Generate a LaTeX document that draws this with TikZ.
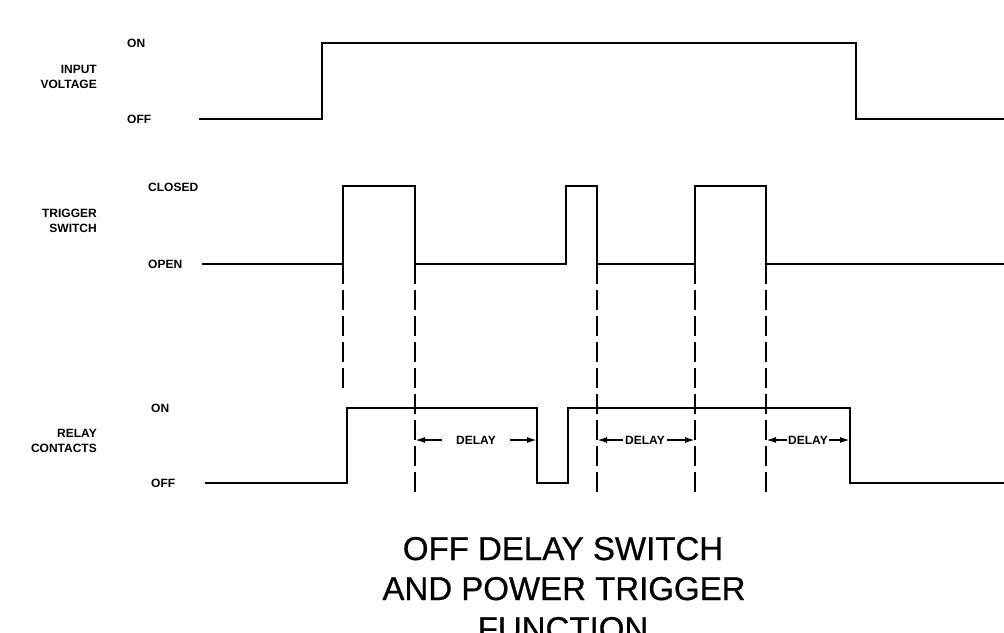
\documentclass[tikz,border=0pt]{standalone}
\usepackage{fontspec}
\setmainfont{Liberation Sans}
\newfontfamily\ttlfont[FakeBold=0.6]{Liberation Sans}
\usetikzlibrary{arrows.meta}
\begin{document}
\begin{tikzpicture}[x=1pt,y=-1pt,
  wave/.style={line width=2.7pt, line join=miter, line cap=butt},
  guide/.style={line width=2.4pt, dash pattern=on 20pt off 6pt},
  lbl/.style={font=\fontsize{12}{14.5}\selectfont\bfseries, inner sep=0pt},
  dly/.style={line width=1.7pt, -{Latex[length=10pt,width=6pt]}},
  ttl/.style={font=\fontsize{33}{40}\ttlfont, inner sep=0pt, anchor=base}]
\fill[white] (0,0) rectangle (1004,632);
\useasboundingbox (0,0) rectangle (1004,632);
\clip (0,0) rectangle (1004,632);

% waveforms
\draw[wave] (199,119) -- (322,119) -- (322,43) -- (856,43) -- (856,119) -- (1004,119);
\draw[wave] (202,264) -- (343,264) -- (343,186) -- (415,186) -- (415,264) -- (566,264) -- (566,186) -- (597,186) -- (597,264) -- (695,264) -- (695,186) -- (766,186) -- (766,264) -- (1004,264);
\draw[wave] (205,483) -- (347,483) -- (347,408) -- (537,408) -- (537,483) -- (568,483) -- (568,408) -- (850,408) -- (850,483) -- (1004,483);

% reference coordinates
\coordinate (g1) at (343,390);
\coordinate (g2) at (415,494);
\coordinate (g3) at (597,494);
\coordinate (g4) at (695,494);
\coordinate (g5) at (766,494);
\coordinate (rf1) at (537,408);
\coordinate (rf2) at (850,408);

% dashed guides
\draw[guide] (g1 |- 0,264) -- (g1);
\draw[guide] (g2 |- 0,264) -- (g2);
\draw[guide] (g3 |- 0,264) -- (g3);
\draw[guide] (g4 |- 0,264) -- (g4);
\draw[guide] (g5 |- 0,264) -- (g5);

% labels
\node[lbl, anchor=west] (on1) at (127,43) {ON};
\node[lbl, anchor=west] (off1) at (127,119) {OFF};
\node[lbl, anchor=east, align=right] (iv) at (97,77) {INPUT\\VOLTAGE};
\node[lbl, anchor=west] (cl) at (148,187) {CLOSED};
\node[lbl, anchor=east, align=right] (ts) at (97,221) {TRIGGER\\SWITCH};
\node[lbl, anchor=west] (op) at (148,264) {OPEN};
\node[lbl, anchor=west] (on3) at (151,408) {ON};
\node[lbl, anchor=east, align=right] (rc) at (97,441) {RELAY\\CONTACTS};
\node[lbl, anchor=west] (off3) at (151,483) {OFF};

% delays
\node[lbl] (d1) at (476,440) {DELAY};
\draw[dly] ([xshift=-14pt]d1.west) -- (g2 |- d1);
\draw[dly] ([xshift=14pt]d1.east) -- (rf1 |- d1);
\node[lbl] (d2) at (645,440) {DELAY};
\draw[dly] ([xshift=-2pt]d2.west) -- (g3 |- d2);
\draw[dly] ([xshift=2pt]d2.east) -- (g4 |- d2);
\node[lbl] (d3) at (808,440) {DELAY};
\draw[dly] ([xshift=-1pt]d3.west) -- (g5 |- d3);
\draw[dly] ([xshift=1pt]d3.east) -- (rf2 |- d3);

% title
\node[ttl] (t1) at (563,560) {OFF DELAY SWITCH};
\node[ttl] (t2) at (564,600) {AND POWER TRIGGER};
\node[ttl] (t3) at (563,640) {FUNCTION};
\end{tikzpicture}
\end{document}
